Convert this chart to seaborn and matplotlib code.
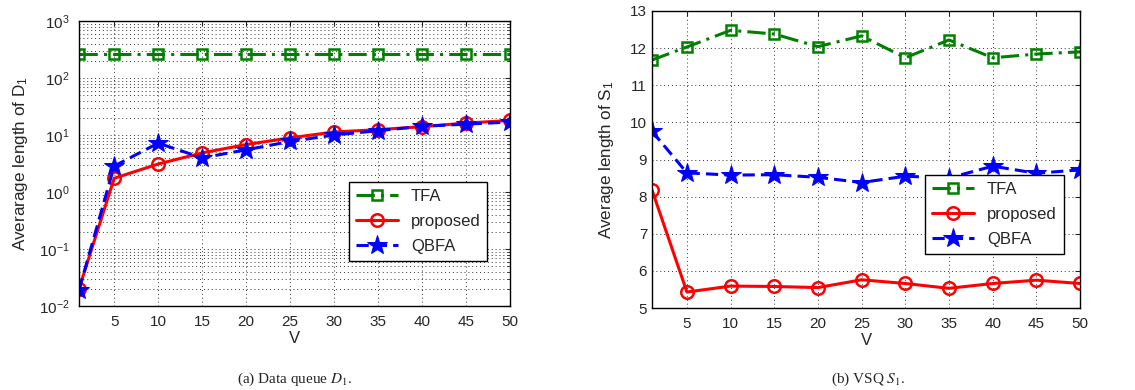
import numpy as np
import pandas as pd
import matplotlib
matplotlib.use("Agg")
import matplotlib.pyplot as plt
import seaborn as sns

# x axis
V = [1, 5, 10, 15, 20, 25, 30, 35, 40, 45, 50]
x_ticks = [5, 10, 15, 20, 25, 30, 35, 40, 45, 50]

# (a) data queue D1, log scale
d1_tfa = [260, 260, 260, 260, 260, 260, 260, 260, 260, 260, 260]
d1_proposed = [0.02, 1.74, 3.1, 4.85, 6.8, 8.9, 11.3, 12.4, 14.0, 16.2, 18.0]
d1_qbfa = [0.019, 2.85, 7.2, 3.97, 5.5, 7.7, 10.0, 11.9, 14.2, 15.5, 16.9]

# (b) VSQ S1
s1_tfa = [11.68, 12.03, 12.48, 12.38, 12.04, 12.33, 11.74, 12.22, 11.74, 11.84, 11.9]
s1_proposed = [8.18, 5.43, 5.59, 5.58, 5.55, 5.76, 5.66, 5.53, 5.66, 5.75, 5.66]
s1_qbfa = [9.76, 8.64, 8.58, 8.59, 8.52, 8.38, 8.55, 8.50, 8.82, 8.63, 8.72]

sns.set_style("white")
plt.rcParams['font.family'] = ['Liberation Sans', 'DejaVu Sans']
plt.rcParams['mathtext.fontset'] = 'stix'
plt.rcParams['xtick.direction'] = 'in'
plt.rcParams['ytick.direction'] = 'in'
plt.rcParams['xtick.top'] = True
plt.rcParams['ytick.right'] = True
plt.rcParams['axes.edgecolor'] = 'black'
plt.rcParams['axes.linewidth'] = 1.0

GREEN = (0.0, 0.5, 0.0)
RED = (1.0, 0.0, 0.0)
BLUE = (0.0, 0.0, 1.0)

STYLES = {
    "TFA": dict(color=GREEN, linestyle=(0, (6, 2, 1, 2)), marker='s', markersize=7,
                markerfacecolor='none', markeredgecolor=GREEN, markeredgewidth=1.8),
    "proposed": dict(color=RED, linestyle='-', marker='o', markersize=9,
                     markerfacecolor='none', markeredgecolor=RED, markeredgewidth=1.8),
    "QBFA": dict(color=BLUE, linestyle=(0, (4, 2)), marker='*', markersize=15,
                 markerfacecolor=BLUE, markeredgecolor=BLUE),
}
GRID = dict(linestyle=(0, (1, 3)), color='black', linewidth=0.7, alpha=0.8)

fig = plt.figure(figsize=(11.35, 3.9), dpi=100)
ax1 = fig.add_axes([79 / 1135, 1 - 306 / 390, 431 / 1135, 285 / 390])
ax2 = fig.add_axes([652 / 1135, 1 - 308 / 390, 428 / 1135, 297 / 390])


def draw(ax, series):
    for name, vals in series.items():
        sns.lineplot(x=V, y=vals, ax=ax, label=name, linewidth=2.2, **STYLES[name])


def finish(ax, ylabel, anchor, ypad, ylabelpad):
    ax.set_xlim(1, 50)
    ax.set_xticks(x_ticks)
    ax.set_xlabel('V', fontsize=12, labelpad=1.5)
    ax.set_ylabel(ylabel, fontsize=12.3, labelpad=ylabelpad)
    ax.tick_params(axis='x', labelsize=11, pad=6.5)
    ax.tick_params(axis='y', labelsize=11, pad=ypad)
    leg = ax.legend(loc='lower right', bbox_to_anchor=anchor, fontsize=12,
                    frameon=True, fancybox=False, edgecolor='black', framealpha=1,
                    handlelength=2.5, borderpad=0.4, labelspacing=0.6)
    leg.get_frame().set_linewidth(1.0)


draw(ax1, {"TFA": d1_tfa, "proposed": d1_proposed, "QBFA": d1_qbfa})
ax1.set_yscale('log')
ax1.set_ylim(1e-2, 1e3)
ax1.grid(True, which='major', axis='both', **GRID)
ax1.grid(True, which='minor', axis='y', **GRID)
finish(ax1, 'Averarage length of D$_\\mathregular{1}$', (0.967, 0.13), 7, 6)

draw(ax2, {"TFA": s1_tfa, "proposed": s1_proposed, "QBFA": s1_qbfa})
ax2.set_ylim(5, 13)
ax2.set_yticks(range(5, 14))
ax2.grid(True, **GRID)
finish(ax2, 'Average length of S$_\\mathregular{1}$', (0.981, 0.155), 3.5, 10)

serif = ['Liberation Serif', 'DejaVu Serif']
fig.text(295 / 1135, 1 - 379 / 390, '(a) Data queue $D_1$.', ha='center', va='center',
         family=serif, fontsize=11)
fig.text(868 / 1135, 1 - 379 / 390, '(b) VSQ $S_1$.', ha='center', va='center',
         family=serif, fontsize=11)

fig.savefig('out.png', dpi=100)
plt.close(fig)
